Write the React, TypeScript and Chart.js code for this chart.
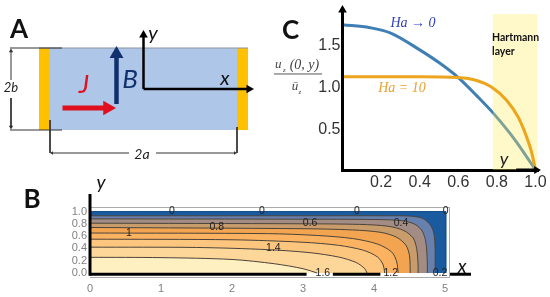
import React, { useEffect, useRef } from "react";
import { Chart, registerables } from "chart.js";

Chart.register(...registerables);

// ---------- Panel C: velocity profiles ----------
const profileX = [0, 0.142, 0.25, 0.4, 0.505, 0.6, 0.695, 0.78, 0.868, 0.936, 1];
const haZeroY = [1.73, 1.694, 1.63, 1.43, 1.27, 1.1, 0.885, 0.68, 0.435, 0.22, 0];
const haTenX = [0, 0.2, 0.4, 0.6, 0.695, 0.77, 0.85, 0.91, 0.953, 0.98, 1];
const haTenY = [1.11, 1.11, 1.11, 1.1, 1.065, 0.99, 0.83, 0.63, 0.4, 0.21, 0];
const layerX = [0.778, 1.011];
const layerY = [1.857, 1.857];
const profileXTicks = [0.2, 0.4, 0.6, 0.8, 1.0];
const profileYTicks = [0.5, 1.0, 1.5];

// ---------- Panel B: contours (level -> curve from the y axis to the x axis) ----------
const c00x = [0, 5.01, 5.01];
const c00y = [1, 1, 0];
const c02x = [0, 3, 4.2, 4.5, 4.68, 4.78, 4.84, 4.86, 4.86];
const c02y = [0.93, 0.93, 0.93, 0.925, 0.89, 0.8, 0.66, 0.4, 0];
const c04x = [0, 3, 4, 4.4, 4.58, 4.68, 4.73, 4.75, 4.75];
const c04y = [0.88, 0.875, 0.87, 0.85, 0.79, 0.68, 0.5, 0.2, 0];
const c06x = [0, 3, 3.8, 4.2, 4.42, 4.55, 4.6, 4.62, 4.62];
const c06y = [0.81, 0.8, 0.79, 0.76, 0.69, 0.57, 0.4, 0.15, 0];
const c08x = [0, 3, 3.7, 4.1, 4.32, 4.45, 4.5, 4.51];
const c08y = [0.74, 0.72, 0.7, 0.66, 0.58, 0.45, 0.28, 0];
const c10x = [0, 2.5, 3.2, 3.7, 4.05, 4.25, 4.32, 4.34];
const c10y = [0.65, 0.64, 0.61, 0.56, 0.47, 0.34, 0.18, 0];
const c12x = [0, 2, 3, 3.5, 3.85, 4.05, 4.13, 4.15];
const c12y = [0.55, 0.54, 0.5, 0.45, 0.37, 0.26, 0.13, 0];
const c14x = [0, 1.5, 2.5, 3.1, 3.5, 3.75, 3.87, 3.9];
const c14y = [0.42, 0.415, 0.38, 0.33, 0.26, 0.17, 0.07, 0];
const c16x = [0, 1, 2, 2.6, 3, 3.2];
const c16y = [0.255, 0.25, 0.22, 0.15, 0.07, 0];
const contourXTicks = [0, 1, 2, 3, 4, 5];
const contourYTicks = [0, 0.2, 0.4, 0.6, 0.8, 1.0];

// ---------- Panel A: schematic, in drawing units centred on the channel ----------
const fluidX = [-93.5, 93.5];
const channelTop = [41, 41];
const channelBottom = -41;
const wallLeftX = [-104.5, -93.5];
const wallRightX = [93.5, 104.5];

type Pt = { x: number; y: number };
const pts = (xs: number[], ys: number[]): Pt[] => xs.map((x, i) => ({ x, y: ys[i] }));

const fillLine = (xs: number[], ys: number[], fillColor: string, stroke: string, width = 1, tension = 0) => ({
  data: pts(xs, ys),
  showLine: true,
  borderColor: stroke,
  borderWidth: width,
  backgroundColor: fillColor,
  fill: "origin" as any,
  pointRadius: 0,
  tension,
});

const line = (xs: number[], ys: number[], color: string, width: number, head = 0, angle = 0) => ({
  data: pts(xs, ys),
  showLine: true,
  borderColor: color,
  borderWidth: width,
  fill: false,
  tension: 0,
  clip: false as any,
  pointStyle: "triangle",
  pointBorderWidth: 0,
  pointBackgroundColor: color,
  pointBorderColor: color,
  pointRotation: angle,
  pointRadius: (c: any) => (c.dataIndex === xs.length - 1 ? head : 0),
});

type Label = {
  t: string;
  x: number;
  y: number;
  font: string;
  color: string;
  align?: CanvasTextAlign;
};

const labelPlugin = (labels: Label[], xId = "x", yId = "y") => ({
  id: "textLabels",
  afterDraw(chart: any) {
    const { ctx, scales } = chart;
    ctx.save();
    ctx.textBaseline = "middle";
    for (const l of labels) {
      ctx.font = l.font;
      ctx.fillStyle = l.color;
      ctx.textAlign = l.align || "center";
      ctx.fillText(l.t, scales[xId].getPixelForValue(l.x), scales[yId].getPixelForValue(l.y));
    }
    ctx.restore();
  },
});

const ordered = (list: any[]) => list.map((d, i) => ({ ...d, order: -i }));
const base = {
  responsive: false,
  animation: false as const,
  events: [] as any[],
  plugins: { legend: { display: false }, tooltip: { enabled: false } },
};
const tickFix = (vals: number[]) => (s: any) => {
  s.ticks = vals.map((value) => ({ value }));
};

const LATO = "Lato, 'Open Sans', sans-serif";
const SANS = "'Liberation Sans', Arial, sans-serif";
const SERIF = "'Liberation Serif', serif";

function panelA(canvas: HTMLCanvasElement) {
  const navy = "#10306e";
  const red = "#e0101e";
  const dim = "#333333";
  const edge = "#8a94a0";
  const fillTo = (d: any) => ({ ...d, fill: { value: channelBottom } });
  const labels: Label[] = [
    { t: "A", x: -124.5, y: 59, font: `700 26px ${LATO}`, color: "#111" },
    { t: "J", x: -59.5, y: 4, font: `italic 26px ${LATO}`, color: red },
    { t: "B", x: -13.5, y: 9, font: `italic 26px ${LATO}`, color: navy },
    { t: "y", x: 9.5, y: 55, font: `italic 20px ${LATO}`, color: "#111" },
    { t: "x", x: 81.5, y: 10, font: `italic 20px ${LATO}`, color: "#111" },
    { t: "2b", x: -132.5, y: 1, font: `italic 13px ${LATO}`, color: "#222" },
    { t: "2a", x: -1.5, y: -65, font: `italic 14px ${LATO}`, color: "#222" },
  ];
  const datasets = ordered([
    fillTo(fillLine(fluidX, channelTop, "#aec6e8", edge)),
    fillTo(fillLine(wallLeftX, channelTop, "#ffc000", edge)),
    fillTo(fillLine(wallRightX, channelTop, "#ffc000", edge)),
    line([-133.5, -81.5], [41, 41], dim, 1),
    line([-133.5, -81.5], [-41, -41], dim, 1),
    line([-132.5, -132.5], [9, 38], dim, 1, 2.5, 0),
    line([-132.5, -132.5], [-9, -38], dim, 1, 2.5, 180),
    line([-93.5, -93.5], [-31, -64], dim, 1),
    line([93.5, 93.5], [-38, -64], dim, 1),
    line([-14.5, -91.5], [-64, -64], dim, 1, 2, 270),
    line([12.5, 91.5], [-64, -64], dim, 1, 2, 90),
    line([-27, -27], [-15, 35], navy, 4.5, 8, 0),
    line([-81, -36], [-19, -19], red, 5, 8.5, 90),
    line([0, 0], [0, 54], "#000", 2.5, 5, 0),
    line([0, 105.5], [0, 0], "#000", 2.5, 5, 90),
  ]);
  return new Chart(canvas, {
    type: "scatter",
    data: { datasets },
    options: {
      ...base,
      layout: { padding: 10 },
      scales: {
        x: { display: false, min: -133.5, max: 396.5 },
        y: { display: false, min: -198, max: 79 },
      },
    },
    plugins: [labelPlugin(labels)],
  } as any);
}

function panelB(canvas: HTMLCanvasElement) {
  const ink = "#4c443a";
  const lab = `10.5px ${SANS}`;
  const labels: Label[] = [
    { t: "B", x: -0.817, y: 1.187, font: `700 26px ${LATO}`, color: "#111" },
    { t: "y", x: 0.155, y: 1.463, font: `italic 19px ${LATO}`, color: "#111" },
    { t: "x", x: 5.24, y: 0.098, font: `italic 19px ${LATO}`, color: "#111" },
    { t: "0", x: 1.155, y: 1.0, font: lab, color: "#222" },
    { t: "0", x: 2.42, y: 1.0, font: lab, color: "#222" },
    { t: "0", x: 3.76, y: 1.0, font: lab, color: "#222" },
    { t: "0", x: 5.01, y: 1.0, font: lab, color: "#222" },
    { t: "0.8", x: 1.785, y: 0.74, font: lab, color: "#222" },
    { t: "1", x: 0.549, y: 0.645, font: lab, color: "#222" },
    { t: "1.4", x: 2.582, y: 0.41, font: lab, color: "#222" },
    { t: "0.6", x: 3.1, y: 0.81, font: lab, color: "#222" },
    { t: "0.4", x: 4.38, y: 0.81, font: lab, color: "#222" },
    { t: "1.6", x: 3.28, y: 0.0, font: lab, color: "#222" },
    { t: "1.2", x: 4.235, y: -0.005, font: lab, color: "#222" },
    { t: "0.2", x: 4.93, y: -0.005, font: lab, color: "#222" },
  ];
  const datasets = ordered([
    fillLine(c00x, c00y, "#1a5a9e", "#174f8c"),
    fillLine(c02x, c02y, "#6880ad", ink, 1, 0.3),
    fillLine(c04x, c04y, "#a28c84", ink, 1, 0.3),
    fillLine(c06x, c06y, "#c99c6c", ink, 1, 0.3),
    fillLine(c08x, c08y, "#f2a450", ink, 1, 0.3),
    fillLine(c10x, c10y, "#fbb361", ink, 1, 0.3),
    fillLine(c12x, c12y, "#fdc67f", ink, 1, 0.3),
    fillLine(c14x, c14y, "#fdd79a", ink, 1, 0.3),
    fillLine(c16x, c16y, "#fff0c2", ink, 1, 0.3),
    line([0, 3.05], [-0.02, -0.02], "#000", 3),
    line([3.42, 4.09], [-0.02, -0.02], "#000", 3),
    line([5.07, 5.366], [-0.02, -0.02], "#000", 3, 5, 90),
    line([0, 0], [-0.045, 1.285], "#000", 3, 5, 0),
  ]);
  const frame = { color: "#aaaaaa", width: 1, dash: [1, 1] };
  const xRange = { min: 0, max: 5.056 };
  const yRange = { min: -0.065, max: 1.073 };
  return new Chart(canvas, {
    type: "scatter",
    data: { datasets },
    options: {
      ...base,
      layout: { padding: { left: 60, right: 101, top: 207, bottom: 0 } },
      scales: {
        x: {
          ...xRange,
          afterBuildTicks: tickFix(contourXTicks),
          afterFit: (s: any) => { s.height = 20; },
          border: { color: "#aaaaaa", width: 1, dash: [1, 1] },
          grid: { drawOnChartArea: false, drawTicks: false },
          ticks: { padding: 5, color: "#808080", autoSkip: false, maxRotation: 0, font: { family: SANS, size: 11 }, callback: (v: any) => String(v) },
        },
        y: {
          ...yRange,
          afterBuildTicks: tickFix(contourYTicks),
          afterFit: (s: any) => { s.width = 30; },
          border: { display: false },
          grid: { drawOnChartArea: false, drawTicks: false },
          ticks: { padding: 3, color: "#808080", autoSkip: false, font: { family: SANS, size: 11 }, callback: (v: any) => Number(v).toFixed(1) },
        },
        xTop: {
          type: "linear", axis: "x", position: "top", ...xRange,
          afterFit: (s: any) => { s.height = 0; },
          border: frame, grid: { drawOnChartArea: false, drawTicks: false }, ticks: { display: false },
        },
        yRight: {
          type: "linear", axis: "y", position: "right", ...yRange,
          afterFit: (s: any) => { s.width = 0; },
          border: frame, grid: { drawOnChartArea: false, drawTicks: false }, ticks: { display: false },
        },
      },
    },
    plugins: [labelPlugin(labels)],
  } as any);
}

function panelC(canvas: HTMLCanvasElement) {
  const blue = "#3f7fb4";
  const orange = "#eca51c";
  const eq = "#444444";
  const labels: Label[] = [
    { t: "C", x: -0.269, y: 1.655, font: `700 26px ${LATO}`, color: "#111" },
    { t: "Ha → 0", x: 0.365, y: 1.75, font: `italic 14px ${SERIF}`, color: "#2f3fc0" },
    { t: "Ha = 10", x: 0.308, y: 0.976, font: `italic 14px ${SERIF}`, color: "#e9a030" },
    { t: "Hartmann", x: 0.775, y: 1.571, font: `700 10.5px ${LATO}`, color: "#111", align: "left" },
    { t: "layer", x: 0.775, y: 1.405, font: `700 10.5px ${LATO}`, color: "#111", align: "left" },
    { t: "y", x: 0.837, y: 0.131, font: `italic 18px ${LATO}`, color: "#222" },
    { t: "u", x: -0.35, y: 1.25, font: `italic 13px ${SERIF}`, color: eq, align: "left" },
    { t: "z", x: -0.308, y: 1.19, font: `italic 7px ${SERIF}`, color: eq, align: "left" },
    { t: "(0, y)", x: -0.197, y: 1.25, font: `italic 14px ${SERIF}`, color: eq },
    { t: "ū", x: -0.246, y: 0.988, font: `italic 13px ${SERIF}`, color: eq },
    { t: "z", x: -0.228, y: 0.929, font: `italic 7px ${SERIF}`, color: eq, align: "left" },
  ];
  const smooth = (d: any) => ({ ...d, cubicInterpolationMode: "monotone" });
  const datasets = ordered([
    smooth(line(profileX, haZeroY, blue, 3)),
    fillLine(layerX, layerY, "rgba(255,238,90,0.33)", "rgba(0,0,0,0)", 0),
    smooth(line(haTenX, haTenY, orange, 3)),
    line([0.9, 1.005], [0, 0], "#000", 3, 4.5, 90),
    line([0, 0], [0, 1.905], "#000", 3, 5, 0),
    line([-0.355, -0.106], [1.143, 1.143], "#555555", 1),
  ]);
  const tickFont = { family: SANS, size: 16 };
  return new Chart(canvas, {
    type: "scatter",
    data: { datasets },
    options: {
      ...base,
      layout: { padding: { left: 312.5, right: 12, top: 14, bottom: 105 } },
      scales: {
        x: {
          min: 0, max: 1.013,
          afterBuildTicks: tickFix(profileXTicks),
          afterFit: (s: any) => { s.height = 22; },
          border: { color: "#000", width: 3 },
          grid: { drawOnChartArea: false, drawTicks: false },
          ticks: { padding: 3, color: "#333", autoSkip: false, maxRotation: 0, font: tickFont, callback: (v: any) => Number(v).toFixed(1) },
        },
        y: {
          min: 0, max: 1.857,
          afterBuildTicks: tickFix(profileYTicks),
          afterFit: (s: any) => { s.width = 30; },
          border: { color: "#000", width: 3 },
          grid: { drawOnChartArea: false, drawTicks: false },
          ticks: { padding: 2, labelOffset: 1.5, color: "#333", autoSkip: false, font: tickFont, callback: (v: any) => Number(v).toFixed(1) },
        },
      },
    },
    plugins: [labelPlugin(labels)],
  } as any);
}

const layerStyle: React.CSSProperties = { position: "absolute", left: 0, top: 0, width: 550, height: 297 };

export default function App() {
  const a = useRef<HTMLCanvasElement>(null);
  const b = useRef<HTMLCanvasElement>(null);
  const c = useRef<HTMLCanvasElement>(null);
  useEffect(() => {
    const charts = [panelA(a.current!), panelB(b.current!), panelC(c.current!)];
    return () => charts.forEach((ch) => ch.destroy());
  }, []);
  return (
    <div style={{ position: "absolute", left: 0, top: 0, width: 550, height: 297, background: "#fff" }}>
      <canvas ref={a} width={550} height={297} style={layerStyle} />
      <canvas ref={b} width={550} height={297} style={layerStyle} />
      <canvas ref={c} width={550} height={297} style={layerStyle} />
    </div>
  );
}
